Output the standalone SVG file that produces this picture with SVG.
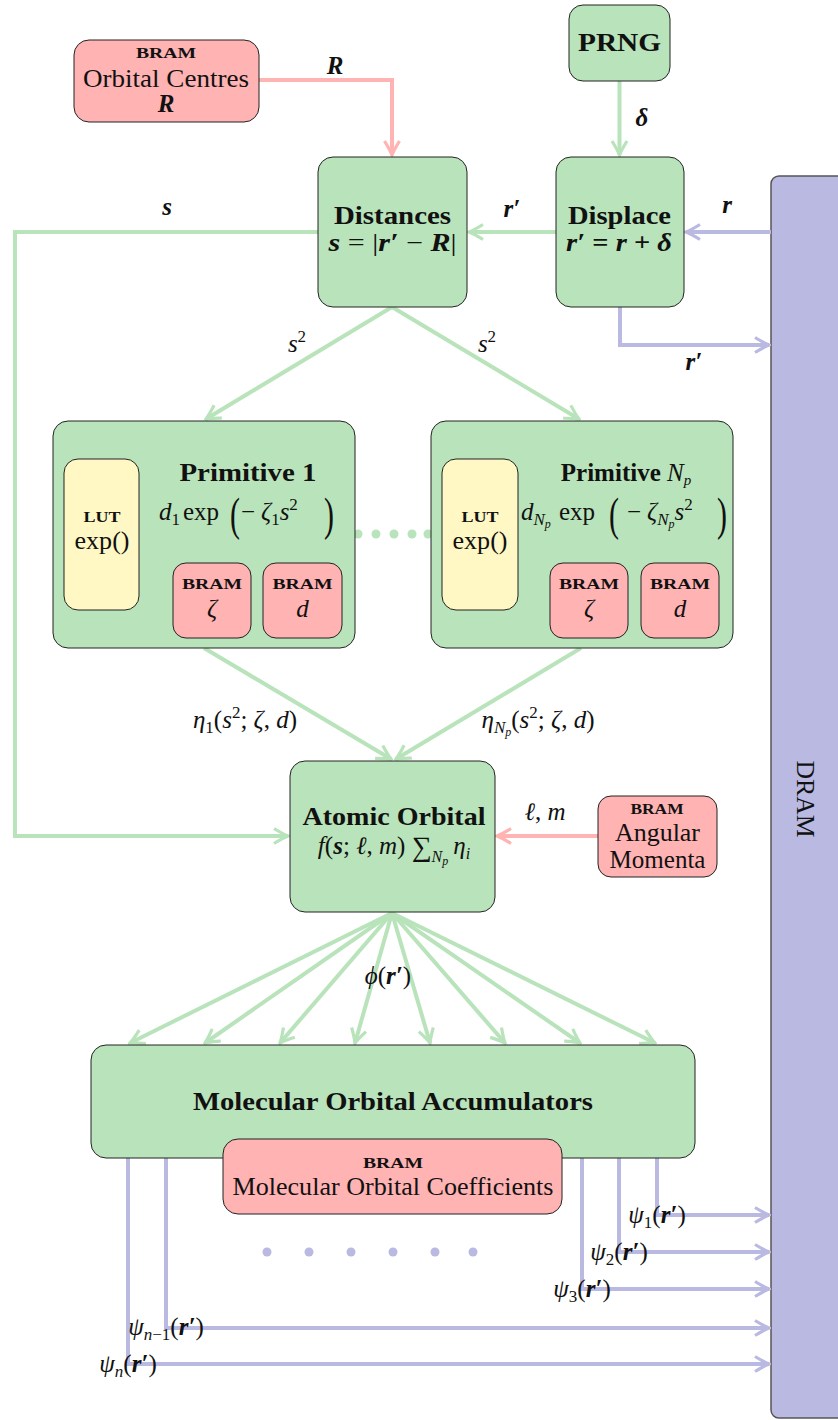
<svg xmlns="http://www.w3.org/2000/svg" width="838" height="1420" viewBox="0 0 838 1420">
<style>
text{font-family:"Liberation Serif","DejaVu Serif",serif;fill:#111}
.t{font-size:25px;text-anchor:middle}
.b{font-weight:bold}
.i{font-style:italic}
.bi{font-style:italic;font-weight:bold}
.sc{font-size:15px;font-weight:bold;text-anchor:middle}
.sub{font-size:17px}
.g{fill:#B9E3BA;stroke:#222;stroke-width:1}
.r{fill:#FFB3B3;stroke:#222;stroke-width:1}
.y{fill:#FFF8C4;stroke:#222;stroke-width:1}
.lg{stroke:#B9E3BA;stroke-width:4;fill:none}
.lr{stroke:#FFB3B3;stroke-width:4;fill:none}
.lp{stroke:#B9B9E2;stroke-width:4;fill:none}
.lg.a{marker-end:url(#ag)}
.lr.a{marker-end:url(#ar)}
.lp.a{marker-end:url(#ap)}
</style>
<defs>
<marker id="ag" markerUnits="userSpaceOnUse" viewBox="-16 -10 18 20" markerWidth="18" markerHeight="20" refX="0" refY="0" orient="auto"><path d="M-14,-7.5 Q-5,-2 0,0 Q-5,2 -14,7.5" fill="none" stroke="#B9E3BA" stroke-width="3.2"/></marker>
<marker id="ar" markerUnits="userSpaceOnUse" viewBox="-16 -10 18 20" markerWidth="18" markerHeight="20" refX="0" refY="0" orient="auto"><path d="M-14,-7.5 Q-5,-2 0,0 Q-5,2 -14,7.5" fill="none" stroke="#FFB3B3" stroke-width="3.2"/></marker>
<marker id="ap" markerUnits="userSpaceOnUse" viewBox="-16 -10 18 20" markerWidth="18" markerHeight="20" refX="0" refY="0" orient="auto"><path d="M-14,-7.5 Q-5,-2 0,0 Q-5,2 -14,7.5" fill="none" stroke="#B9B9E2" stroke-width="3.2"/></marker>
</defs>

<g id="dram">
<rect x="771" y="176" width="100" height="1242" rx="8" fill="#B9B9E2" stroke="#555" stroke-width="1.5"/>
<text class="t" transform="translate(797,799) rotate(90)" textLength="77" lengthAdjust="spacingAndGlyphs">DRAM</text>
</g>

<g id="connectors">
<path class="lr a" d="M259,80 H392 V155"/>
<path class="lg a" d="M619.5,81 V155"/>
<path class="lg a" d="M556,232 H469"/>
<path class="lp a" d="M771,232 H686"/>
<path class="lp a" d="M620,307 V345 H769"/>
<path class="lg a" d="M318,232 H15 V836 H288"/>
<path class="lg a" d="M392,307 L206,419"/>
<path class="lg a" d="M392,307 L579,419"/>
<path class="lg a" d="M204,648 L391,759"/>
<path class="lg a" d="M581,648 L396,759"/>
<path class="lr a" d="M598,836 H497"/>
<g fill="#B9E3BA">
<circle cx="358" cy="534" r="4.5"/><circle cx="376" cy="534" r="4.5"/><circle cx="394" cy="534" r="4.5"/><circle cx="412" cy="534" r="4.5"/><circle cx="428" cy="534" r="4.5"/>
</g>
<path class="lg a" d="M392,913 L130,1043"/>
<path class="lg a" d="M392,913 L205,1043"/>
<path class="lg a" d="M392,913 L280,1043"/>
<path class="lg a" d="M392,913 L355,1043"/>
<path class="lg a" d="M392,913 L430,1043"/>
<path class="lg a" d="M392,913 L505,1043"/>
<path class="lg a" d="M392,913 L580,1043"/>
<path class="lg a" d="M392,913 L655,1043"/>
<path class="lp a" d="M657,1158 V1215 H769"/>
<path class="lp a" d="M619,1158 V1252 H769"/>
<path class="lp a" d="M582,1158 V1289 H769"/>
<path class="lp a" d="M166,1158 V1328 H769"/>
<path class="lp a" d="M128,1158 V1364 H769"/>
<g fill="#B9B9E2">
<circle cx="267" cy="1252" r="4.5"/><circle cx="309" cy="1252" r="4.5"/><circle cx="351" cy="1252" r="4.5"/><circle cx="393" cy="1252" r="4.5"/><circle cx="435" cy="1252" r="4.5"/><circle cx="473" cy="1252" r="4.5"/>
</g>
<text x="335" y="74" class="t bi">R</text>
<text x="642" y="126" class="t bi">δ</text>
<text x="512" y="217" class="t bi">r′</text>
<text x="727" y="213" class="t bi">r</text>
<text x="694" y="370" class="t bi">r′</text>
<text x="167" y="215" class="t bi">s</text>
<text x="297" y="352" class="t"><tspan class="i">s</tspan><tspan class="sub" dy="-10">2</tspan></text>
<text x="487" y="352" class="t"><tspan class="i">s</tspan><tspan class="sub" dy="-10">2</tspan></text>
<text x="245" y="728" class="t"><tspan class="i">η</tspan><tspan class="sub" dy="5">1</tspan><tspan dy="-5">(</tspan><tspan class="i">s</tspan><tspan class="sub" dy="-10">2</tspan><tspan dy="10">; </tspan><tspan class="i">ζ</tspan>, <tspan class="i">d</tspan>)</text>
<text x="538" y="728" class="t"><tspan class="i">η</tspan><tspan class="sub i" dy="5">N</tspan><tspan class="i" font-size="12" dy="3">p</tspan><tspan dy="-8">(</tspan><tspan class="i">s</tspan><tspan class="sub" dy="-10">2</tspan><tspan dy="10">; </tspan><tspan class="i">ζ</tspan>, <tspan class="i">d</tspan>)</text>
<text x="545" y="820" class="t"><tspan class="i">ℓ</tspan>, <tspan class="i">m</tspan></text>
<text x="388" y="984" class="t"><tspan class="i">ϕ</tspan>(<tspan class="bi">r′</tspan>)</text>
<text x="657" y="1223" class="t"><tspan class="i">ψ</tspan><tspan class="sub" dy="5">1</tspan><tspan dy="-5">(</tspan><tspan class="bi">r′</tspan>)</text>
<text x="619" y="1260" class="t"><tspan class="i">ψ</tspan><tspan class="sub" dy="5">2</tspan><tspan dy="-5">(</tspan><tspan class="bi">r′</tspan>)</text>
<text x="582" y="1297" class="t"><tspan class="i">ψ</tspan><tspan class="sub" dy="5">3</tspan><tspan dy="-5">(</tspan><tspan class="bi">r′</tspan>)</text>
<text x="166" y="1335" class="t"><tspan class="i">ψ</tspan><tspan class="sub i" dy="5">n</tspan><tspan class="sub">−1</tspan><tspan dy="-5">(</tspan><tspan class="bi">r′</tspan>)</text>
<text x="128" y="1372" class="t"><tspan class="i">ψ</tspan><tspan class="sub i" dy="5">n</tspan><tspan dy="-5">(</tspan><tspan class="bi">r′</tspan>)</text>
</g>

<g id="orbital-centres">
<rect class="r" x="74" y="40" width="185" height="82" rx="15"/>
<text x="166" y="58" class="sc" textLength="60" lengthAdjust="spacingAndGlyphs">BRAM</text>
<text x="166" y="87" class="t" textLength="166" lengthAdjust="spacingAndGlyphs">Orbital Centres</text>
<text x="166" y="112" class="t bi">R</text>
</g>

<g id="prng">
<rect class="g" x="569" y="5" width="101" height="76" rx="14"/>
<text x="619.5" y="51" class="t b" textLength="83" lengthAdjust="spacingAndGlyphs">PRNG</text>
</g>

<g id="distances">
<rect class="g" x="318" y="157" width="149" height="150" rx="15"/>
<text x="392.5" y="224" class="t b" textLength="117" lengthAdjust="spacingAndGlyphs">Distances</text>
<text x="392.5" y="251" class="t" textLength="128" lengthAdjust="spacingAndGlyphs"><tspan class="bi">s</tspan> = |<tspan class="bi">r′</tspan> − <tspan class="bi">R</tspan>|</text>
</g>

<g id="displace">
<rect class="g" x="556" y="157" width="128" height="150" rx="15"/>
<text x="619.5" y="224" class="t b" textLength="103" lengthAdjust="spacingAndGlyphs">Displace</text>
<text x="619" y="251" class="t b" textLength="106" lengthAdjust="spacingAndGlyphs"><tspan class="i">r′</tspan> = <tspan class="i">r</tspan> + <tspan class="i">δ</tspan></text>
</g>

<g id="primitive-1">
<rect class="g" x="53" y="421" width="302" height="227" rx="15"/>
<rect class="y" x="64" y="459" width="75" height="151" rx="14"/>
<text x="102" y="522" class="sc" textLength="37" lengthAdjust="spacingAndGlyphs">LUT</text>
<text x="102" y="549" class="t" textLength="55" lengthAdjust="spacingAndGlyphs">exp()</text>
<text x="248" y="481" class="t b" textLength="137" lengthAdjust="spacingAndGlyphs">Primitive 1</text>
<text x="159" y="520" font-size="25"><tspan class="i">d</tspan><tspan class="sub" dy="5">1</tspan></text>
<text x="183" y="520" font-size="25">exp</text>
<text font-size="26" transform="translate(230,530) scale(1.15,1.8)">(</text>
<text x="241" y="520" font-size="25">−</text>
<text x="261" y="520" font-size="25"><tspan class="i">ζ</tspan><tspan class="sub" dy="5">1</tspan><tspan class="i" dy="-5">s</tspan><tspan class="sub" dy="-10">2</tspan></text>
<text font-size="26" transform="translate(324,530) scale(1.15,1.8)">)</text>
<rect class="r" x="173" y="563" width="78" height="75" rx="13"/>
<text x="212" y="589" class="sc" textLength="60" lengthAdjust="spacingAndGlyphs">BRAM</text>
<text x="212" y="617" class="t i">ζ</text>
<rect class="r" x="263" y="563" width="79" height="75" rx="13"/>
<text x="302.5" y="589" class="sc" textLength="60" lengthAdjust="spacingAndGlyphs">BRAM</text>
<text x="302.5" y="617" class="t i">d</text>
</g>

<g id="primitive-np">
<rect class="g" x="431" y="421" width="302" height="227" rx="15"/>
<rect class="y" x="442" y="459" width="76" height="151" rx="14"/>
<text x="480" y="522" class="sc" textLength="37" lengthAdjust="spacingAndGlyphs">LUT</text>
<text x="480" y="549" class="t" textLength="55" lengthAdjust="spacingAndGlyphs">exp()</text>
<text x="626" y="481" class="t"><tspan class="b">Primitive </tspan><tspan class="i">N</tspan><tspan class="i" font-size="15" dy="4">p</tspan></text>
<text x="521" y="520" font-size="25"><tspan class="i">d</tspan><tspan class="sub i" dy="5">N</tspan><tspan class="i" font-size="12" dy="3">p</tspan></text>
<text x="559" y="520" font-size="25">exp</text>
<text font-size="26" transform="translate(609,530) scale(1.15,1.8)">(</text>
<text x="627" y="520" font-size="25">−</text>
<text x="647" y="520" font-size="25"><tspan class="i">ζ</tspan><tspan class="sub i" dy="5">N</tspan><tspan class="i" font-size="12" dy="3">p</tspan><tspan class="i" dy="-8">s</tspan><tspan class="sub" dy="-10">2</tspan></text>
<text font-size="26" transform="translate(717,530) scale(1.15,1.8)">)</text>
<rect class="r" x="550" y="563" width="78" height="75" rx="13"/>
<text x="589" y="589" class="sc" textLength="60" lengthAdjust="spacingAndGlyphs">BRAM</text>
<text x="589" y="617" class="t i">ζ</text>
<rect class="r" x="641" y="563" width="78" height="75" rx="13"/>
<text x="680" y="589" class="sc" textLength="60" lengthAdjust="spacingAndGlyphs">BRAM</text>
<text x="680" y="617" class="t i">d</text>
</g>

<g id="atomic-orbital">
<rect class="g" x="290" y="761" width="205" height="151" rx="15"/>
<text x="394" y="825" class="t b" textLength="183" lengthAdjust="spacingAndGlyphs">Atomic Orbital</text>
<text x="394" y="854" class="t"><tspan class="i">f</tspan>(<tspan class="bi">s</tspan>; <tspan class="i">ℓ</tspan>, <tspan class="i">m</tspan>) <tspan font-size="28" dy="2">∑</tspan><tspan class="i" font-size="16" dy="6">N</tspan><tspan class="i" font-size="12" dy="3">p</tspan><tspan class="i" dx="5" dy="-11">η</tspan><tspan class="i" font-size="16" dy="5">i</tspan></text>
</g>

<g id="angular-momenta">
<rect class="r" x="598" y="796" width="119" height="81" rx="13"/>
<text x="657" y="814" class="sc" font-weight="normal" textLength="53" lengthAdjust="spacingAndGlyphs">BRAM</text>
<text x="657.5" y="841" class="t" textLength="85" lengthAdjust="spacingAndGlyphs">Angular</text>
<text x="657.5" y="868" class="t" textLength="96" lengthAdjust="spacingAndGlyphs">Momenta</text>
</g>

<g id="mo-accumulators">
<rect class="g" x="91" y="1045" width="604" height="113" rx="15"/>
<text x="393" y="1110" class="t b" textLength="400" lengthAdjust="spacingAndGlyphs">Molecular Orbital Accumulators</text>
</g>

<g id="mo-coefficients">
<rect class="r" x="223" y="1139" width="339" height="75" rx="15"/>
<text x="393" y="1168" class="sc" textLength="60" lengthAdjust="spacingAndGlyphs">BRAM</text>
<text x="393" y="1195" class="t" textLength="321" lengthAdjust="spacingAndGlyphs">Molecular Orbital Coefficients</text>
</g>
</svg>
